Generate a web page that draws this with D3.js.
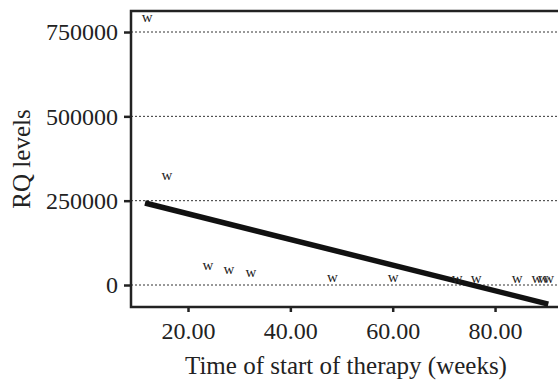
<!DOCTYPE html>
<html>
<head>
<meta charset="utf-8">
<script src="https://cdn.jsdelivr.net/npm/d3@7"></script>
<style>
  body { margin: 0; background: #fff; }
  svg text { font-family: "Liberation Serif", "Times New Roman", serif; fill: #222; }
</style>
</head>
<body>
<svg id="chart" width="558" height="380"></svg>
<script>
// observed points (weeks, RQ level)
var weeks = [12.0, 15.9, 23.9, 28.0, 32.3, 48.2, 60.1, 72.6, 76.3, 84.3, 88.2, 89.4, 90.5];
var rqLevels = [790000, 320000, 55000, 42000, 35000, 18000, 18000, 15000, 15000, 15000, 15000, 15000, 15000];

// fitted line end points
var fitWeeks = [11.6, 90.4];
var fitLevels = [243000, -56500];

var xTicks = [20, 40, 60, 80];
var yTicks = [0, 250000, 500000, 750000];

var svg = d3.select("#chart");
// plot box (note: "top" is taken by window.top)
var plotL = 131, plotR = 558, plotT = 11, plotB = 307;

var x = d3.scaleLinear().domain([8.86, 92.3]).range([plotL, plotR]);
var y = d3.scaleLinear().domain([-65200, 812300]).range([plotB, plotT]);

// dotted grid lines
svg.append("g").selectAll("line")
  .data(yTicks)
  .enter().append("line")
  .attr("x1", plotL).attr("x2", plotR)
  .attr("y1", function(d) { return y(d); })
  .attr("y2", function(d) { return y(d); })
  .attr("stroke", "#333")
  .attr("stroke-width", 1)
  .attr("stroke-dasharray", "2,2");

// axes
var xAxis = svg.append("g")
  .attr("transform", "translate(0," + plotB + ")")
  .call(d3.axisBottom(x).tickValues(xTicks).tickSize(5).tickPadding(10).tickFormat(d3.format(".2f")));
var yAxis = svg.append("g")
  .attr("transform", "translate(" + plotL + ",0)")
  .call(d3.axisLeft(y).tickValues(yTicks).tickSize(7).tickPadding(6).tickFormat(d3.format("d")));

[xAxis, yAxis].forEach(function(a) {
  a.select(".domain").remove();
  a.selectAll(".tick line").attr("stroke", "#222").attr("stroke-width", 2.5);
  a.selectAll(".tick text").style("font-size", "24px")
    .style("font-family", "'Liberation Serif', 'Times New Roman', serif").attr("fill", "#222");
});
yAxis.selectAll(".tick text").attr("dy", "0.33em");

// frame: left, bottom, top
svg.append("path")
  .attr("d", "M" + plotR + "," + plotT + "H" + plotL + "V" + plotB + "H" + plotR)
  .attr("fill", "none")
  .attr("stroke", "#222")
  .attr("stroke-width", 2.5);

// regression line
var line = d3.line()
  .x(function(d, i) { return x(fitWeeks[i]); })
  .y(function(d) { return y(d); });
svg.append("path")
  .datum(fitLevels)
  .attr("d", line)
  .attr("stroke", "#111")
  .attr("stroke-width", 5.5)
  .attr("fill", "none");

// point markers
svg.append("g").selectAll("text")
  .data(weeks)
  .enter().append("text")
  .attr("x", function(d) { return x(d); })
  .attr("y", function(d, i) { return y(rqLevels[i]); })
  .attr("dy", "0.22em")
  .attr("text-anchor", "middle")
  .style("font-size", "15px")
  .text("w");

// axis titles
svg.append("text")
  .attr("x", 346).attr("y", 374)
  .attr("text-anchor", "middle")
  .style("font-size", "25px")
  .text("Time of start of therapy (weeks)");
svg.append("text")
  .attr("transform", "translate(30," + ((plotT + plotB) / 2) + ") rotate(-90)")
  .attr("text-anchor", "middle")
  .style("font-size", "25px")
  .text("RQ levels");
</script>
</body>
</html>
